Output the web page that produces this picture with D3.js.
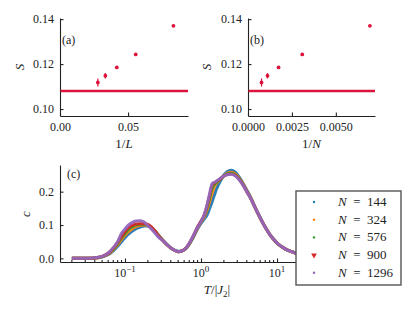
<!DOCTYPE html>
<html>
<head>
<meta charset="utf-8">
<script src="https://cdn.jsdelivr.net/npm/d3@7"></script>
<style>
  html, body { margin: 0; padding: 0; background: #fff; }
  svg { display: block; font-family: "Liberation Serif", "DejaVu Serif", serif; }
  .ax text { font-size: 12px; fill: #222; font-family: "Liberation Serif", serif; }
  .ax path, .ax line { stroke: #222; stroke-width: 1.1; }
</style>
</head>
<body>
<div id="chart"></div>
<script>
// ---- data ----
const sizesL = [12, 18, 24, 30, 36];
const sizesN = [144, 324, 576, 900, 1296];
const invL = [0.0833, 0.0556, 0.0417, 0.0333, 0.0278];
const invN = [0.00694, 0.00309, 0.00174, 0.00111, 0.00077];
const sVals = [0.1370, 0.1243, 0.1185, 0.1148, 0.1118];
const sErr  = [0.0004, 0.0004, 0.0006, 0.0012, 0.0018];
const sLimit = 0.108;

const ticksS = [0.10, 0.12, 0.14];
const ticksA = [0.00, 0.05];
const ticksB = [0.0000, 0.0025, 0.0050];
const ticksC = [0.0, 0.1, 0.2];
const ticksT = [0.1, 1, 10];

const temps = [0.02, 0.025, 0.03, 0.035, 0.04, 0.045, 0.05, 0.056, 0.063, 0.07, 0.08, 0.09,
  0.1, 0.11, 0.125, 0.14, 0.16, 0.18, 0.2, 0.22, 0.25, 0.28, 0.32, 0.36, 0.4, 0.45, 0.5,
  0.56, 0.63, 0.7, 0.8, 0.9, 1.0, 1.1, 1.2, 1.3, 1.4, 1.5, 1.6, 1.8, 2.0, 2.2, 2.5, 2.8,
  3.2, 3.6, 4.0, 4.5, 5.0, 5.6, 6.3, 7.0, 8.0, 9.0, 10, 11, 12.5, 14, 16, 18, 20, 25, 30];

const c144 = [0, 0, 0, 0.0003, 0.001, 0.002, 0.004, 0.008, 0.014, 0.022, 0.036, 0.05,
  0.062, 0.072, 0.082, 0.089, 0.094, 0.097, 0.097, 0.093, 0.082, 0.068, 0.053, 0.041, 0.032, 0.025, 0.021,
  0.022, 0.028, 0.042, 0.065, 0.088, 0.105, 0.118, 0.13, 0.15, 0.17, 0.19, 0.208, 0.232, 0.25, 0.26, 0.264, 0.259,
  0.243, 0.224, 0.205, 0.183, 0.16, 0.136, 0.113, 0.094, 0.073, 0.058, 0.046, 0.038, 0.03, 0.024, 0.019, 0.015, 0.012, 0.008, 0.005];
const c324 = [0, 0, 0, 0.0004, 0.001, 0.002, 0.005, 0.009, 0.016, 0.026, 0.041, 0.057,
  0.069, 0.079, 0.089, 0.095, 0.099, 0.1, 0.098, 0.093, 0.081, 0.067, 0.052, 0.04, 0.031, 0.024, 0.02,
  0.022, 0.029, 0.043, 0.067, 0.091, 0.108, 0.124, 0.145, 0.17, 0.195, 0.215, 0.225, 0.237, 0.248, 0.255, 0.258, 0.254,
  0.24, 0.222, 0.203, 0.182, 0.159, 0.135, 0.112, 0.093, 0.072, 0.057, 0.046, 0.038, 0.03, 0.024, 0.019, 0.015, 0.012, 0.008, 0.005];
const c576 = [0, 0, 0, 0.0004, 0.0012, 0.003, 0.005, 0.01, 0.018, 0.028, 0.045, 0.062,
  0.075, 0.086, 0.095, 0.1, 0.102, 0.102, 0.099, 0.093, 0.08, 0.066, 0.052, 0.04, 0.031, 0.024, 0.02,
  0.022, 0.03, 0.044, 0.068, 0.093, 0.11, 0.128, 0.152, 0.182, 0.21, 0.222, 0.228, 0.238, 0.247, 0.253, 0.255, 0.251,
  0.238, 0.22, 0.201, 0.181, 0.158, 0.135, 0.112, 0.093, 0.072, 0.057, 0.046, 0.038, 0.03, 0.024, 0.019, 0.015, 0.012, 0.008, 0.005];
const c900 = [0, 0, 0, 0.0005, 0.0013, 0.003, 0.006, 0.011, 0.019, 0.03, 0.048, 0.066,
  0.08, 0.091, 0.099, 0.103, 0.104, 0.104, 0.102, 0.095, 0.081, 0.066, 0.052, 0.04, 0.031, 0.024, 0.02,
  0.022, 0.03, 0.045, 0.069, 0.094, 0.112, 0.13, 0.158, 0.19, 0.22, 0.226, 0.231, 0.239, 0.247, 0.251, 0.253, 0.249,
  0.236, 0.219, 0.2, 0.18, 0.158, 0.135, 0.112, 0.093, 0.072, 0.057, 0.046, 0.038, 0.03, 0.024, 0.019, 0.015, 0.012, 0.008, 0.005];
const c1296 = [0, 0, 0, 0.0005, 0.0015, 0.003, 0.006, 0.011, 0.02, 0.032, 0.05, 0.075,
  0.088, 0.099, 0.108, 0.112, 0.113, 0.108, 0.098, 0.089, 0.075, 0.062, 0.052, 0.04, 0.031, 0.024, 0.02,
  0.022, 0.03, 0.045, 0.07, 0.093, 0.11, 0.13, 0.16, 0.195, 0.224, 0.228, 0.232, 0.24, 0.247, 0.251, 0.252, 0.248,
  0.235, 0.218, 0.2, 0.18, 0.158, 0.135, 0.112, 0.093, 0.072, 0.057, 0.046, 0.038, 0.03, 0.024, 0.019, 0.015, 0.012, 0.008, 0.005];

const seriesC = [c144, c324, c576, c900, c1296];
const colors = ['#1f77b4', '#ff7f0e', '#2ca02c', '#d62728', '#9467bd'];
const crimson = '#dc143c';

// ---- svg ----
const W = 415, H = 312;
const svg = d3.select('#chart').append('svg').attr('width', W).attr('height', H);

const yS = d3.scaleLinear().domain([0.0969, 0.1405]).range([116, 18]);

function sPanel(x, vals, ticks, fmt, tag, ylabX, xlabText) {
  const g = svg.append('g');
  g.append('g').attr('class', 'ax').attr('transform', `translate(${x.range()[0]},0)`)
    .call(d3.axisLeft(yS).tickValues(ticksS).tickFormat(d3.format('.2f'))
      .tickSizeInner(-3.5).tickSizeOuter(0).tickPadding(6));
  g.append('g').attr('class', 'ax').attr('transform', 'translate(0,116)')
    .call(d3.axisBottom(x).tickValues(ticks).tickFormat(d3.format(fmt))
      .tickSizeInner(-3.5).tickSizeOuter(0).tickPadding(6));

  g.append('line').attr('x1', x.range()[0] + 0.5).attr('x2', x.range()[1])
    .attr('y1', yS(sLimit)).attr('y2', yS(sLimit))
    .attr('stroke', crimson).attr('stroke-width', 2.4);

  g.selectAll('line.err').data(vals).join('line').attr('class', 'err')
    .attr('x1', d => x(d)).attr('x2', d => x(d))
    .attr('y1', (d, i) => yS(sVals[i] - sErr[i])).attr('y2', (d, i) => yS(sVals[i] + sErr[i]))
    .attr('stroke', crimson).attr('stroke-width', 1.2);
  g.selectAll('circle').data(vals).join('circle')
    .attr('cx', d => x(d)).attr('cy', (d, i) => yS(sVals[i])).attr('r', 1.9)
    .attr('fill', crimson);

  g.append('text').attr('x', x.range()[0] + 2).attr('y', 44).attr('font-size', 12)
    .attr('fill', '#222').text(tag);
  g.append('text').attr('transform', `translate(${ylabX},67) rotate(-90)`)
    .attr('text-anchor', 'middle').attr('font-size', 13).attr('font-style', 'italic')
    .attr('fill', '#222').text('S');
  g.append('text').attr('x', (x.range()[0] + x.range()[1]) / 2).attr('y', 148)
    .attr('text-anchor', 'middle').attr('font-size', 13).attr('fill', '#222')
    .html(`1/<tspan font-style="italic">${xlabText}</tspan>`);
}

sPanel(d3.scaleLinear().domain([0, 0.094]).range([60, 188]), invL, ticksA, '.2f', '(a)', 24, 'L');
sPanel(d3.scaleLinear().domain([0, 0.00723]).range([248, 375]), invN, ticksB, '.4f', '(b)', 211, 'N');

// ---- panel (c) ----
const xT = d3.scaleLog().domain([0.01396, 194.5]).range([60, 375]);
const yC = d3.scaleLinear().domain([-0.011, 0.28]).range([262, 165]);
const gc = svg.append('g');

gc.append('g').attr('class', 'ax').attr('transform', 'translate(60,0)')
  .call(d3.axisLeft(yC).tickValues(ticksC).tickFormat(d3.format('.1f'))
    .tickSizeInner(-3.5).tickSizeOuter(0).tickPadding(6));

const minor = [];
[0.01, 0.1, 1, 10, 100].forEach(b => d3.range(2, 10).forEach(k => {
  const v = b * k;
  if (v > xT.domain()[0] && v < xT.domain()[1]) minor.push(v);
}));

const line = d3.line().x((d, i) => xT(temps[i])).y(d => yC(d)).curve(d3.curveMonotoneX);
seriesC.forEach((s, k) => {
  gc.append('path').datum(s).attr('d', line).attr('fill', 'none')
    .attr('stroke', colors[k]).attr('stroke-width', 3).attr('stroke-opacity', 0.95);
});

const xAx = gc.append('g').attr('class', 'ax').attr('transform', 'translate(0,262)')
  .call(d3.axisBottom(xT).tickValues(ticksT).tickFormat('').tickSizeInner(-3.5).tickSizeOuter(0));
xAx.selectAll('line.minor').data(minor).join('line').attr('class', 'minor')
  .attr('x1', d => xT(d)).attr('x2', d => xT(d)).attr('y1', 0).attr('y2', -2);
ticksT.forEach(t => {
  const e = Math.round(Math.log10(t));
  xAx.append('text').attr('x', xT(t)).attr('y', 15).attr('text-anchor', 'middle')
    .html(`10<tspan dy="-5" font-size="9">${e < 0 ? '\u2212' + (-e) : e}</tspan>`);
});

gc.append('text').attr('x', 67).attr('y', 178).attr('font-size', 12).attr('fill', '#222').text('(c)');
gc.append('text').attr('transform', 'translate(30,214) rotate(-90)')
  .attr('text-anchor', 'middle').attr('font-size', 13).attr('font-style', 'italic')
  .attr('fill', '#222').text('c');
gc.append('text').attr('x', 217).attr('y', 294).attr('text-anchor', 'middle')
  .attr('font-size', 13).attr('fill', '#222')
  .html('<tspan font-style="italic">T</tspan>/|<tspan font-style="italic">J</tspan><tspan dy="3" font-size="9">2</tspan><tspan dy="-3">|</tspan>');

// ---- legend ----
const lg = svg.append('g').attr('transform', 'translate(296,191)');
lg.append('rect').attr('width', 105).attr('height', 94).attr('fill', '#fff')
  .attr('stroke', '#555').attr('stroke-width', 1.4);
sizesN.forEach((n, i) => {
  const y = 11 + i * 17.7;
  if (i === 3) {
    lg.append('path').attr('d', d3.symbol(d3.symbolTriangle, 14)())
      .attr('transform', `translate(18,${y}) rotate(180)`).attr('fill', colors[i]);
  } else {
    lg.append('circle').attr('cx', 18).attr('cy', y).attr('r', 1.2).attr('fill', colors[i]);
  }
  lg.append('text').attr('x', 42).attr('y', y + 4).attr('font-size', 13).attr('fill', '#222')
    .html(`<tspan font-style="italic">N</tspan>\u2002=\u2002${n}`);
});
</script>
</body>
</html>
